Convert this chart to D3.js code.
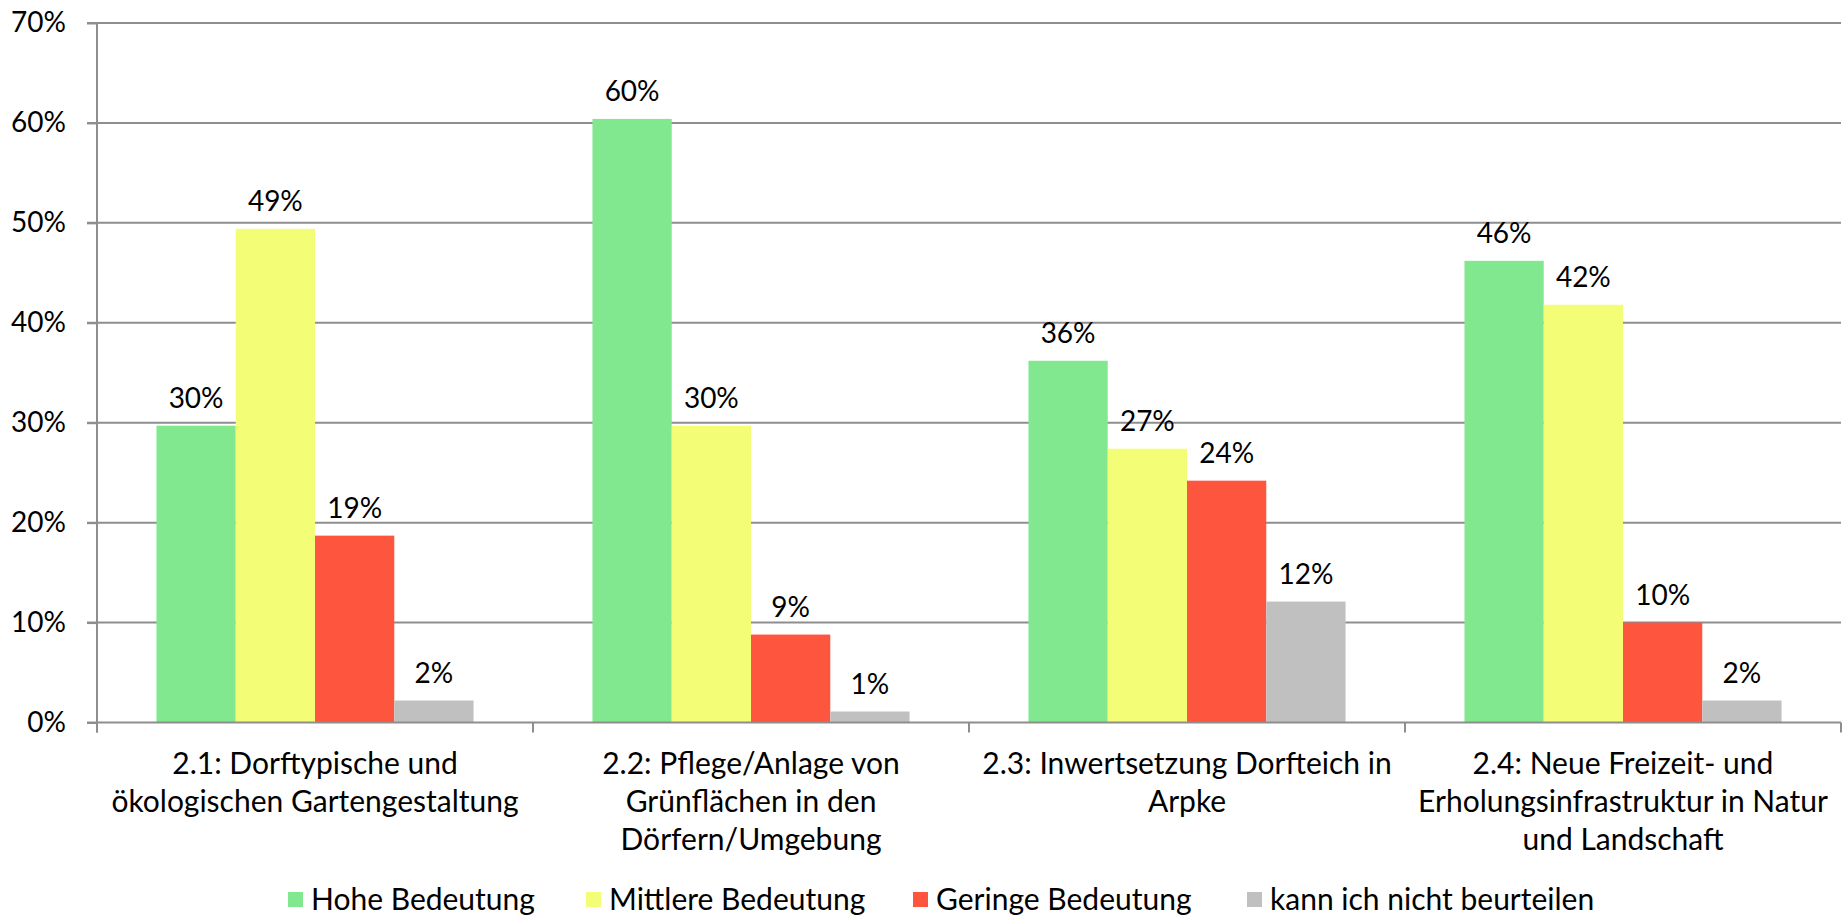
<!DOCTYPE html>
<html>
<head>
    <meta charset="utf-8">
    <title>Bedeutung Handlungsfeld 2</title>
    <script src="https://d3js.org/d3.v7.min.js"></script>
    <style>
        body { margin: 0; background: #fff; }
        text { font-family: Lato, "Open Sans", sans-serif; fill: #000; }
    </style>
</head>
<body>
<script>
// categories (line breaks as in the original labels)
var categories = [
    "2.1: Dorftypische und\nökologischen Gartengestaltung",
    "2.2: Pflege/Anlage von\nGrünflächen in den\nDörfern/Umgebung",
    "2.3: Inwertsetzung Dorfteich in\nArpke",
    "2.4: Neue Freizeit- und\nErholungsinfrastruktur in Natur\nund Landschaft"
];
var series = ["Hohe Bedeutung", "Mittlere Bedeutung", "Geringe Bedeutung", "kann ich nicht beurteilen"];
var colors = ["#81E890", "#F3FE76", "#FE553F", "#C0C0C0"];

// values per series, one per category
var hohe     = [0.297, 0.604, 0.362, 0.462];
var mittlere = [0.494, 0.297, 0.274, 0.418];
var geringe  = [0.187, 0.088, 0.242, 0.100];
var kann     = [0.022, 0.011, 0.121, 0.022];
var values = [hohe, mittlere, geringe, kann];

var yTicks = [0, 0.1, 0.2, 0.3, 0.4, 0.5, 0.6, 0.7];

var W = 1843, H = 917;
var plotL = 97, plotR = 1841, plotT = 23, plotB = 722.5;

var svg = d3.select("body").append("svg")
    .attr("width", W)
    .attr("height", H);

var x0 = d3.scaleBand().domain(d3.range(categories.length)).range([plotL, plotR]).padding(0);
var x1 = d3.scaleBand().domain(d3.range(series.length)).range([0, x0.bandwidth()])
    .paddingInner(0).paddingOuter(0.75);
var y = d3.scaleLinear().domain([0, 0.7]).range([plotB, plotT]);

var fmt = d3.format(".0%");

// gridlines
svg.append("g")
    .selectAll("line")
    .data(yTicks.slice(1))
    .enter().append("line")
    .attr("x1", plotL - 10).attr("x2", plotR)
    .attr("y1", function(d) { return y(d); })
    .attr("y2", function(d) { return y(d); })
    .attr("stroke", "#8e8e8e")
    .attr("stroke-width", 2);

// y axis
var yAxis = d3.axisLeft(y).tickValues(yTicks).tickFormat(fmt).tickSize(10).tickPadding(21);
var yg = svg.append("g").attr("transform", "translate(" + plotL + ",0)").call(yAxis);
yg.select(".domain").attr("stroke", "#8e8e8e").attr("stroke-width", 2)
    .attr("d", "M0," + plotT + "V" + (plotB + 10));
yg.selectAll(".tick line").attr("stroke", "#8e8e8e").attr("stroke-width", 2);
yg.selectAll(".tick text").style("font-size", "28px").attr("fill", "#000")
    .attr("font-family", null);

// bars
var groups = svg.append("g")
    .selectAll("g")
    .data(categories)
    .enter().append("g")
    .attr("transform", function(d, i) { return "translate(" + x0(i) + ",0)"; });

groups.selectAll("rect")
    .data(function(d, ci) { return series.map(function(s, si) { return {si: si, v: values[si][ci]}; }); })
    .enter().append("rect")
    .attr("x", function(d) { return x1(d.si); })
    .attr("width", x1.bandwidth())
    .attr("y", function(d) { return y(d.v); })
    .attr("height", function(d) { return y(0) - y(d.v); })
    .attr("fill", function(d) { return colors[d.si]; });

groups.selectAll("text.lbl")
    .data(function(d, ci) { return series.map(function(s, si) { return {si: si, v: values[si][ci]}; }); })
    .enter().append("text")
    .attr("class", "lbl")
    .attr("x", function(d) { return x1(d.si) + x1.bandwidth() / 2; })
    .attr("y", function(d) { return y(d.v) - 18; })
    .attr("text-anchor", "middle")
    .style("font-size", "28px")
    .text(function(d) { return fmt(d.v); });

// x axis (baseline + category ticks)
var xg = svg.append("g").attr("transform", "translate(0," + plotB + ")");
xg.append("line")
    .attr("x1", plotL - 10).attr("x2", plotR)
    .attr("stroke", "#8e8e8e").attr("stroke-width", 2);
xg.selectAll("line.tk")
    .data(d3.range(categories.length + 1))
    .enter().append("line")
    .attr("class", "tk")
    .attr("x1", function(d) { return plotL + d * x0.step(); })
    .attr("x2", function(d) { return plotL + d * x0.step(); })
    .attr("y1", 0).attr("y2", 10)
    .attr("stroke", "#8e8e8e").attr("stroke-width", 2);

var catText = xg.selectAll("text.cat")
    .data(categories)
    .enter().append("text")
    .attr("class", "cat")
    .attr("text-anchor", "middle")
    .style("font-size", "30px")
    .attr("transform", function(d, i) { return "translate(" + (x0(i) + x0.bandwidth() / 2) + ",51)"; });

catText.selectAll("tspan")
    .data(function(d) { return d.split("\n"); })
    .enter().append("tspan")
    .attr("x", 0)
    .attr("dy", function(d, i) { return i === 0 ? 0 : 38; })
    .text(function(d) { return d; });

// legend
var legendX = [288, 586, 913, 1247];
var lg = svg.append("g").selectAll("g")
    .data(series)
    .enter().append("g")
    .attr("transform", function(d, i) { return "translate(" + legendX[i] + ",892)"; });
lg.append("rect")
    .attr("width", 15).attr("height", 15)
    .attr("fill", function(d, i) { return colors[i]; });
lg.append("text")
    .attr("x", 23).attr("y", 18)
    .style("font-size", "30px")
    .text(function(d) { return d; });
</script>
</body>
</html>
